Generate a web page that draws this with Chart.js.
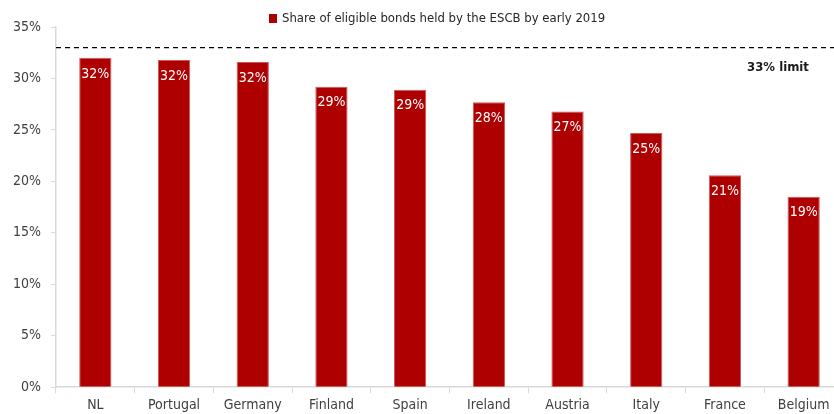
<!DOCTYPE html>
<html>
<head>
<meta charset="utf-8">
<script src="https://cdn.jsdelivr.net/npm/chart.js@4/dist/chart.umd.min.js"></script>
<style>
  html, body { margin: 0; padding: 0; overflow: hidden; background: #fff; }
  #wrap { width: 834px; height: 414px; overflow: hidden; }
</style>
</head>
<body>
<div id="wrap"><canvas id="esCBChart"></canvas></div>
<script>
const countries = ["NL", "Portugal", "Germany", "Finland", "Spain", "Ireland", "Austria", "Italy", "France", "Belgium"];
const shareHeld = [32.0, 31.8, 31.6, 29.2, 28.9, 27.7, 26.8, 24.7, 20.6, 18.5];
const limitValue = 33;
const seriesName = "Share of eligible bonds held by the ESCB by early 2019";
const limitLabel = "33% limit";

const FONT = "'Liberation Sans Narrow', 'DejaVu Sans Condensed', sans-serif";
const RED = "#ae0000";

// labels inside bars, dashed limit line and legend
const extras = {
  id: "extras",
  afterDatasetsDraw(chart) {
    const ctx = chart.ctx;
    const area = chart.chartArea;
    const y = chart.scales.y;
    const meta = chart.getDatasetMeta(0);

    ctx.save();
    ctx.fillStyle = "#ffffff";
    ctx.font = "14px " + FONT;
    ctx.textAlign = "center";
    ctx.textBaseline = "top";
    meta.data.forEach(function (bar, i) {
      ctx.fillText(Math.round(shareHeld[i]) + "%", bar.x, bar.y + 9);
    });

    const ly = y.getPixelForValue(limitValue);
    ctx.strokeStyle = "#000000";
    ctx.lineWidth = 1.3;
    ctx.setLineDash([5, 4]);
    ctx.beginPath();
    ctx.moveTo(area.left, ly);
    ctx.lineTo(chart.width, ly);
    ctx.stroke();
    ctx.setLineDash([]);

    ctx.fillStyle = "#1a1a1a";
    ctx.font = "bold 13px " + FONT;
    ctx.textAlign = "center";
    ctx.textBaseline = "middle";
    ctx.fillText(limitLabel, 778, ly + 20);

    ctx.fillStyle = RED;
    ctx.fillRect(269, 14, 8, 9);
    ctx.fillStyle = "#262626";
    ctx.font = "13px " + FONT;
    ctx.textAlign = "left";
    ctx.fillText(seriesName, 282, 19);
    ctx.restore();
  }
};

const canvas = document.getElementById("esCBChart");
canvas.width = 843;
canvas.height = 414;
const ctx = canvas.getContext("2d");

new Chart(ctx, {
  type: "bar",
  data: {
    labels: countries,
    datasets: [
      {
        label: seriesName,
        data: shareHeld,
        backgroundColor: RED,
        borderColor: "#c85a5a",
        borderWidth: { left: 1, right: 1, top: 1, bottom: 0 },
        categoryPercentage: 1.0,
        barPercentage: 0.41,
      },
    ],
  },
  options: {
    responsive: false,
    animation: false,
    layout: { padding: { top: 27, left: 3, right: 0, bottom: -4 } },
    scales: {
      x: {
        grid: { display: true, drawOnChartArea: false, offset: true, tickLength: 6, color: "#d9d9d9" },
        border: { color: "#d9d9d9", width: 1.5 },
        ticks: { color: "#404040", font: { family: FONT, size: 14 }, padding: 4, maxRotation: 0 },
      },
      y: {
        min: 0,
        max: 35,
        grid: { display: true, drawOnChartArea: false, tickLength: 5, color: "#d9d9d9" },
        border: { color: "#d9d9d9", width: 1.5 },
        ticks: {
          stepSize: 5,
          color: "#404040",
          font: { family: FONT, size: 14 },
          padding: 10,
          callback: function (v) { return v + "%"; },
        },
      },
    },
    plugins: {
      legend: { display: false },
      tooltip: { enabled: false },
    },
  },
  plugins: [extras],
});
</script>
</body>
</html>
